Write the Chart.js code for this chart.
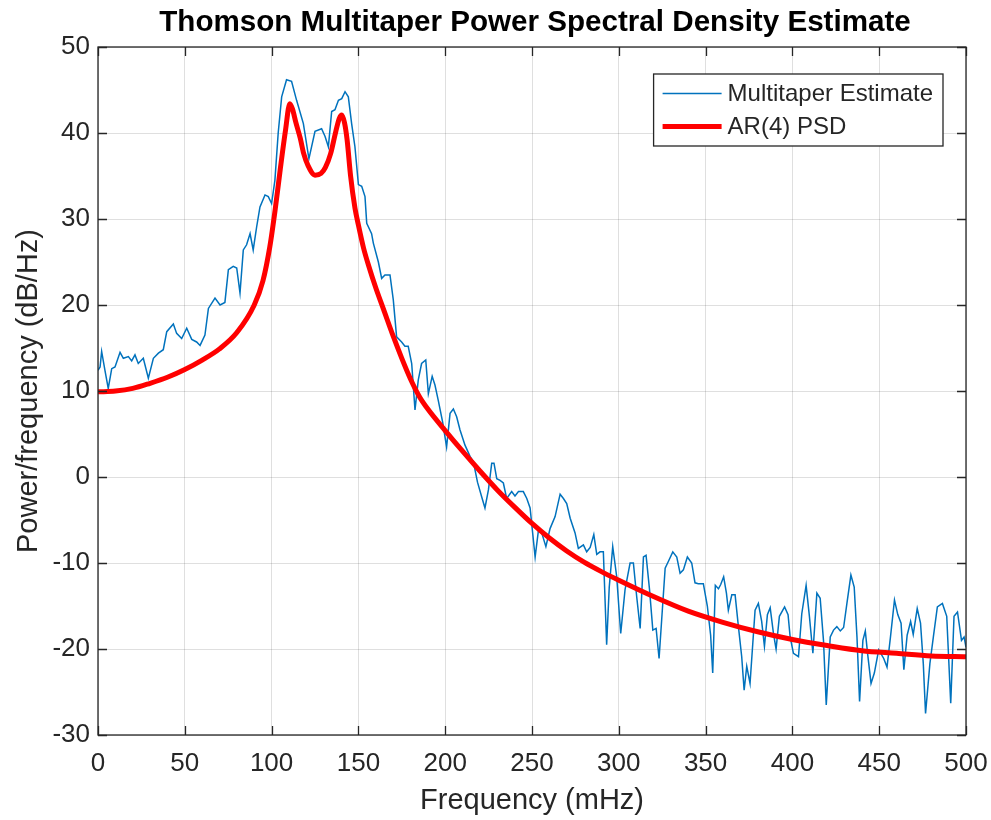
<!DOCTYPE html>
<html>
<head>
<meta charset="utf-8">
<title>Thomson Multitaper PSD</title>
<script src="https://cdn.jsdelivr.net/npm/chart.js@4.4.1/dist/chart.umd.min.js"></script>
<style>
  html, body { margin: 0; padding: 0; background: #fff; }
  #wrap { width: 991px; height: 820px; position: relative; }
</style>
</head>
<body>
<div id="wrap"><canvas id="psdChart"></canvas></div>
<script>
// Multitaper estimate (mHz, dB/Hz)
const freqMt = [0, 1.2, 2.1, 4.0, 5.9, 7.9, 9.8, 12.7, 14.6, 17.5, 19.4, 21.3, 23.2, 26.1, 29.0, 31.9, 34.8, 37.6, 39.6, 43.4,
  45.3, 48.2, 51.1, 54.0, 56.8, 58.8, 61.6, 63.6, 67.4, 70.3, 73.1, 75.1, 77.9, 79.9, 81.8, 83.7, 85.6, 87.6, 89.4, 91.4,
  93.3, 96.2, 98.1, 100.0, 101.9, 103.8, 105.8, 108.6, 111.5, 114.4, 118.3, 121.5, 125.0, 128.8, 130.8, 132.7, 134.6, 136.5, 138.5, 140.4,
  142.3, 144.2, 146.1, 148.0, 150.0, 151.9, 153.8, 154.8, 157.6, 158.6, 161.5, 163.4, 165.3, 168.2, 170.1, 172.0, 174.9, 176.8, 178.7, 180.7,
  182.6, 184.5, 186.4, 188.8, 190.3, 192.5, 194.1, 196.0, 198.5, 200.8, 202.8, 204.7, 206.6, 208.5, 211.4, 214.3, 216.2, 218.6, 221.0, 222.9,
  224.9, 226.8, 228.1, 229.7, 231.6, 233.5, 235.4, 238.3, 240.2, 242.2, 245.0, 247.0, 248.9, 251.8, 253.7, 255.6, 258.0, 260.4, 263.3, 266.2,
  268.1, 270.0, 272.0, 274.8, 276.7, 279.6, 281.5, 283.5, 285.6, 287.3, 289.2, 291.1, 293.0, 294.5, 296.5, 298.8, 301.1, 303.6, 306.5, 308.4,
  310.3, 312.3, 314.2, 315.7, 317.7, 319.6, 321.5, 323.2, 324.7, 326.7, 328.6, 331.1, 333.4, 335.3, 337.2, 339.5, 342.0, 343.9, 345.8, 348.7,
  351.0, 352.9, 354.1, 355.6, 357.4, 358.7, 360.4, 362.0, 363.1, 365.1, 367.0, 368.9, 370.8, 372.2, 373.7, 375.6, 377.2, 378.5, 380.4, 382.3,
  383.9, 385.6, 387.2, 389.1, 390.6, 392.5, 395.5, 397.5, 398.7, 400.6, 403.5, 405.4, 407.9, 409.8, 411.8, 414.1, 416.0, 417.9, 419.5, 421.8,
  423.7, 425.6, 427.6, 429.5, 431.4, 433.7, 435.6, 437.2, 438.7, 440.6, 442.0, 443.3, 445.3, 447.2, 449.7, 452.6, 454.5, 456.5, 458.8, 460.7,
  462.6, 464.2, 466.1, 468.1, 469.6, 471.9, 473.8, 475.4, 476.7, 479.2, 481.2, 483.5, 486.4, 488.9, 491.2, 493.1, 495.1, 497.4, 498.9, 500.0];
const psdMt = [12.4, 12.8, 14.6, 12.4, 10.3, 12.6, 12.8, 14.5, 13.8, 14.0, 13.5, 14.2, 13.2, 13.8, 11.5, 13.8, 14.4, 14.8, 16.9, 17.8,
  16.7, 16.1, 17.3, 16.0, 15.7, 15.3, 16.5, 19.6, 20.8, 20.0, 20.3, 24.1, 24.5, 24.3, 21.4, 26.4, 27.0, 28.3, 26.4, 29.1,
  31.4, 32.8, 32.6, 31.8, 34.5, 40.0, 44.2, 46.2, 46.0, 43.8, 41.1, 37.0, 40.2, 40.5, 39.6, 38.4, 42.5, 42.7, 43.8, 44.0,
  44.8, 44.2, 41.1, 38.4, 34.0, 33.8, 32.6, 29.5, 28.3, 27.2, 25.0, 23.1, 23.5, 23.5, 20.6, 16.3, 15.7, 15.2, 15.2, 13.2,
  7.8, 11.3, 13.2, 13.6, 9.7, 11.7, 10.7, 8.9, 6.4, 3.5, 7.4, 7.9, 7.0, 5.5, 3.7, 2.4, 1.8, -0.6, -2.3, -3.6,
  -1.5, 1.6, 1.6, -0.2, -0.4, -0.7, -2.5, -1.7, -2.2, -1.7, -1.7, -2.5, -3.6, -9.3, -6.2, -6.5, -8.1, -6.0, -4.6, -2.0,
  -2.5, -3.1, -4.8, -6.5, -8.3, -7.9, -8.7, -8.2, -6.7, -9.0, -8.7, -8.7, -19.5, -12.8, -8.1, -11.6, -18.2, -13.1, -10.0, -10.0,
  -13.9, -17.6, -9.3, -9.1, -13.1, -17.8, -17.6, -21.1, -16.6, -10.6, -9.8, -8.7, -9.3, -11.2, -10.8, -9.3, -10.0, -12.3, -12.4, -12.4,
  -15.0, -18.4, -22.8, -12.6, -13.0, -12.5, -11.6, -13.5, -15.5, -13.7, -13.7, -17.4, -20.9, -24.8, -22.0, -24.0, -19.3, -15.5, -14.7, -16.8,
  -19.7, -16.0, -15.2, -18.2, -20.0, -16.2, -15.1, -16.0, -18.6, -20.5, -20.9, -15.9, -12.6, -16.2, -20.5, -13.5, -14.1, -19.0, -26.5, -18.6,
  -17.8, -17.4, -17.9, -17.5, -14.7, -11.4, -12.8, -18.6, -26.1, -19.0, -17.9, -20.5, -24.0, -22.8, -20.1, -21.1, -22.1, -18.6, -14.3, -16.0,
  -17.0, -22.4, -18.4, -16.8, -18.3, -15.3, -17.0, -21.7, -27.5, -21.7, -18.6, -15.1, -14.7, -16.2, -26.3, -16.2, -15.7, -19.0, -18.6, -19.8];

// AR(4) PSD curve
const freqAr = [0, 10, 20, 30, 40, 50, 60, 70, 80, 90, 95, 99, 102, 105, 108, 110.5, 112, 114, 116.5, 118.5,
  121, 125, 128.5, 131, 134, 137, 139, 140.4, 142, 143.5, 145.5, 148, 150, 153, 156, 160, 165, 170, 175, 180,
  185, 190, 200, 210, 220, 230, 240, 250, 260, 270, 280, 290, 300, 320, 340, 360, 380, 400, 420, 440, 460, 480, 500];
const psdAr = [9.9, 10.0, 10.3, 10.9, 11.6, 12.5, 13.6, 14.9, 16.8, 20.0, 22.8, 26.8, 31.0, 35.8, 40.3, 43.4, 42.8, 41.2, 39.4, 37.6,
  36.2, 35.1, 35.3, 36.0, 37.6, 40.2, 41.7, 42.1, 41.2, 39.2, 35.0, 31.3, 29.3, 26.6, 24.5, 22.0, 19.2, 16.4, 13.8, 11.4,
  9.4, 7.9, 5.4, 3.0, 0.7, -1.5, -3.5, -5.4, -7.1, -8.6, -9.9, -11.0, -12.0, -13.9, -15.6, -16.9, -18.0, -18.9, -19.6, -20.2, -20.5, -20.8, -20.9];

const seriesNames = ['Multitaper Estimate', 'AR(4) PSD'];
const chartTitle = 'Thomson Multitaper Power Spectral Density Estimate';
const xTicks = { min: 0, max: 500, step: 50 };
const yTicks = { min: -30, max: 50, step: 10 };

const FONT = "'Liberation Sans', Arial, Helvetica, sans-serif";
const AXIS_COLOR = '#262626';

function toPoints(xs, ys) {
  return xs.map((x, i) => ({ x: x, y: ys[i] }));
}

// Title over the plot box, box outline, inward ticks and the legend (MATLAB style)
const axesDecor = {
  id: 'axesDecor',
  afterDatasetsDraw(chart) {
    const { ctx, chartArea: a, scales } = chart;
    const x = scales.x, y = scales.y;
    const tick = 9;
    ctx.save();

    // title, centred on the axes
    ctx.font = 'bold 29.6px ' + FONT;
    ctx.fillStyle = '#000';
    ctx.textAlign = 'center';
    ctx.textBaseline = 'middle';
    ctx.fillText(chartTitle, (a.left + a.right) / 2 + 3, 22.5);

    ctx.strokeStyle = AXIS_COLOR;
    ctx.lineWidth = 1.3;
    ctx.beginPath();
    x.ticks.forEach((t) => {
      const px = Math.round(x.getPixelForValue(t.value)) + 0.5;
      ctx.moveTo(px, a.bottom); ctx.lineTo(px, a.bottom - tick);
      ctx.moveTo(px, a.top); ctx.lineTo(px, a.top + tick);
    });
    y.ticks.forEach((t) => {
      const py = Math.round(y.getPixelForValue(t.value)) + 0.5;
      ctx.moveTo(a.left, py); ctx.lineTo(a.left + tick, py);
      ctx.moveTo(a.right, py); ctx.lineTo(a.right - tick, py);
    });
    ctx.stroke();
    ctx.strokeRect(a.left, a.top, a.right - a.left, a.bottom - a.top);

    // legend box in the upper right corner
    ctx.font = '24px ' + FONT;
    const textW = Math.max(...seriesNames.map((s) => ctx.measureText(s).width));
    const boxW = textW + 84;
    const boxH = 72;
    const right = a.right - 23;
    const top = a.top + 27;
    const left = right - boxW;
    ctx.fillStyle = '#fff';
    ctx.fillRect(left, top, boxW, boxH);
    ctx.lineWidth = 1.3;
    ctx.strokeStyle = AXIS_COLOR;
    ctx.strokeRect(left, top, boxW, boxH);
    chart.data.datasets.forEach((ds, i) => {
      const rowY = top + 19.5 + i * 33;
      ctx.strokeStyle = ds.borderColor;
      ctx.lineWidth = ds.borderWidth;
      ctx.beginPath();
      ctx.moveTo(left + 9, rowY);
      ctx.lineTo(left + 68, rowY);
      ctx.stroke();
      ctx.fillStyle = AXIS_COLOR;
      ctx.textBaseline = 'middle';
      ctx.textAlign = 'left';
      ctx.fillText(ds.label, left + 74, rowY + 1);
    });
    ctx.restore();
  }
};

const ctx = document.getElementById('psdChart').getContext('2d');
new Chart(ctx, {
  type: 'line',
  data: {
    datasets: [
      {
        label: seriesNames[0],
        data: toPoints(freqMt, psdMt),
        borderColor: '#0072BD',
        borderWidth: 1.5,
        pointRadius: 0,
        tension: 0,
        order: 1,
      },
      {
        label: seriesNames[1],
        data: toPoints(freqAr, psdAr),
        borderColor: '#FF0000',
        borderWidth: 5,
        pointRadius: 0,
        cubicInterpolationMode: 'monotone',
        order: 0,
      },
    ],
  },
  options: {
    responsive: true,
    maintainAspectRatio: false,
    animation: false,
    layout: { padding: { left: 0, right: 25, top: 47, bottom: 0 } },
    plugins: {
      legend: { display: false },
      tooltip: { enabled: false },
      title: { display: false },
    },
    scales: {
      x: {
        type: 'linear',
        min: xTicks.min,
        max: xTicks.max,
        ticks: { stepSize: xTicks.step, color: AXIS_COLOR, padding: 13, maxRotation: 0,
          font: { family: FONT, size: 26 } },
        grid: { color: 'rgba(38,38,38,0.15)', lineWidth: 1, drawTicks: false },
        border: { display: false },
        title: { display: true, text: 'Frequency (mHz)', color: AXIS_COLOR,
          font: { family: FONT, size: 29 }, padding: { top: 0, bottom: 2 } },
        afterFit: (scale) => {
          scale.height = 85;
          scale.paddingLeft = 0;
          scale.paddingRight = 0;
        },
      },
      y: {
        type: 'linear',
        min: yTicks.min,
        max: yTicks.max,
        ticks: { stepSize: yTicks.step, color: AXIS_COLOR, padding: 8,
          font: { family: FONT, size: 26 } },
        grid: { color: 'rgba(38,38,38,0.15)', lineWidth: 1, drawTicks: false },
        border: { display: false },
        title: { display: true, text: 'Power/frequency (dB/Hz)', color: AXIS_COLOR,
          font: { family: FONT, size: 29 }, padding: { top: 12, bottom: 0 } },
        afterFit: (scale) => {
          scale.width = 98;
          scale.paddingTop = 0;
          scale.paddingBottom = 0;
        },
      },
    },
  },
  plugins: [axesDecor],
});
</script>
</body>
</html>
